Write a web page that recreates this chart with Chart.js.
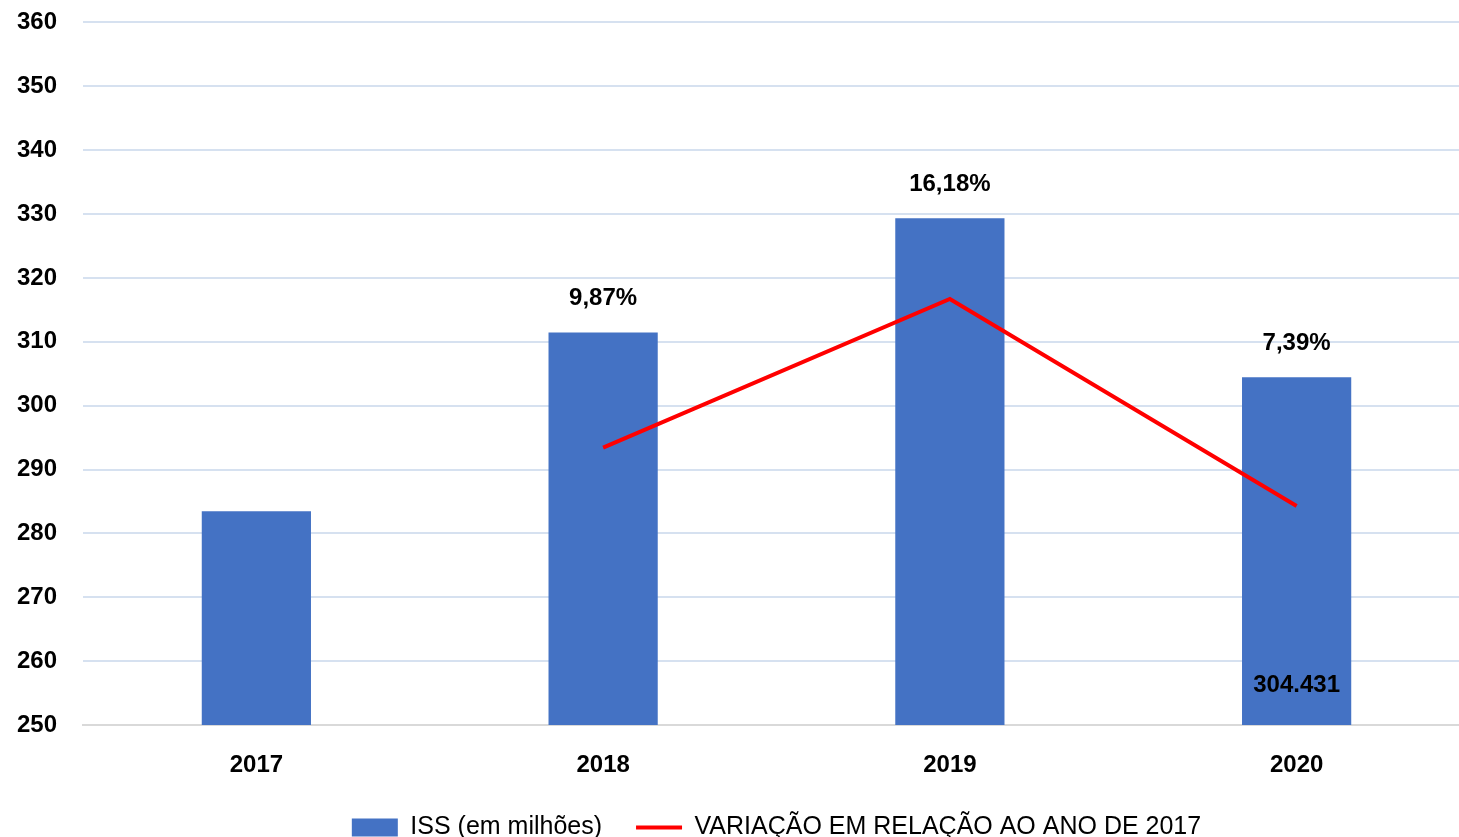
<!DOCTYPE html>
<html>
<head>
<meta charset="utf-8">
<script src="https://cdn.jsdelivr.net/npm/chart.js@4.4.1/dist/chart.umd.min.js"></script>
<style>
    html, body { margin: 0; padding: 0; background: #fff; overflow: hidden; }
    #wrap { width: 1470px; height: 837px; overflow: hidden; }
    #issChart { position: relative; top: -18px; }
</style>
</head>
<body>
<div id="wrap"><canvas id="issChart" width="1470" height="855"></canvas></div>
<script>
// Data
const years = ["2017", "2018", "2019", "2020"];
const issValues = [283.48, 311.46, 329.35, 304.431]; // ISS (em milhões)
const variation = [null, 9.87, 16.18, 7.39]; // % vs 2017
const barTextLabels = [null, null, null, "304.431"];
const yTicks = [250, 260, 270, 280, 290, 300, 310, 320, 330, 340, 350, 360];

const labelFont = "'Liberation Sans', Arial, sans-serif";

// Draws the % labels above the bars and the value inside the last bar
const valueLabels = {
    id: "valueLabels",
    afterDatasetsDraw(chart) {
        const ctx = chart.ctx;
        const bars = chart.getDatasetMeta(0).data;
        const bottom = chart.scales.y.getPixelForValue(yTicks[0]);
        ctx.save();
        ctx.fillStyle = "#000";
        ctx.font = "bold 24px " + labelFont;
        ctx.textAlign = "center";
        ctx.textBaseline = "middle";
        bars.forEach((bar, i) => {
            if (variation[i] != null) {
                const txt = variation[i].toFixed(2).replace(".", ",") + "%";
                ctx.fillText(txt, bar.x, bar.y - 34);
            }
            if (barTextLabels[i] != null) {
                ctx.fillText(barTextLabels[i], bar.x, bottom - 40);
            }
        });
        ctx.restore();
    },
};

new Chart(document.getElementById("issChart"), {
    data: {
        labels: years,
        datasets: [
            {
                type: "bar",
                label: "ISS (em milhões)",
                data: issValues,
                backgroundColor: "#4472C4",
                borderWidth: 0,
                barPercentage: 0.315,
                categoryPercentage: 1,
                pointStyle: "rect",
                order: 2,
            },
            {
                type: "line",
                label: "VARIAÇÃO EM RELAÇÃO AO ANO DE 2017",
                data: variation,
                yAxisID: "y2",
                borderColor: "#FF0000",
                backgroundColor: "#FF0000",
                borderWidth: 4,
                pointRadius: 0,
                pointStyle: "line",
                tension: 0,
                order: 1,
            },
        ],
    },
    plugins: [valueLabels],
    options: {
        responsive: false,
        animation: false,
        layout: {
            padding: { top: 3, left: 0, right: 0, bottom: -13 },
        },
        scales: {
            x: {
                grid: { display: false, drawTicks: false },
                border: { color: "#D9D9D9", width: 2 },
                ticks: {
                    color: "#000",
                    padding: 26,
                    font: { family: labelFont, size: 24, weight: "bold" },
                },
                afterFit: (scale) => { scale.height = 56; },
            },
            y: {
                min: 250,
                max: 360,
                afterBuildTicks: (scale) => {
                    scale.ticks = yTicks.map((v) => ({ value: v }));
                },
                grid: {
                    color: (c) => (c.tick && c.tick.value === yTicks[0] ? "#D9D9D9" : "#D6E1F0"),
                    lineWidth: 2,
                    drawTicks: false,
                },
                border: { display: false },
                ticks: {
                    color: "#000",
                    padding: 26,
                    font: { family: labelFont, size: 24, weight: "bold" },
                },
                afterFit: (scale) => { scale.width = 83; },
            },
            y2: {
                display: false,
                min: -1.91,
                max: 27.92,
            },
        },
        plugins: {
            legend: {
                position: "bottom",
                fullSize: false,
                labels: {
                    usePointStyle: true,
                    pointStyleWidth: 46,
                    boxHeight: 18,
                    color: "#000",
                    padding: 34,
                    sort: (a, b) => a.datasetIndex - b.datasetIndex,
                    font: { family: labelFont, size: 25 },
                },
            },
            tooltip: { enabled: false },
        },
    },
});
</script>
</body>
</html>
